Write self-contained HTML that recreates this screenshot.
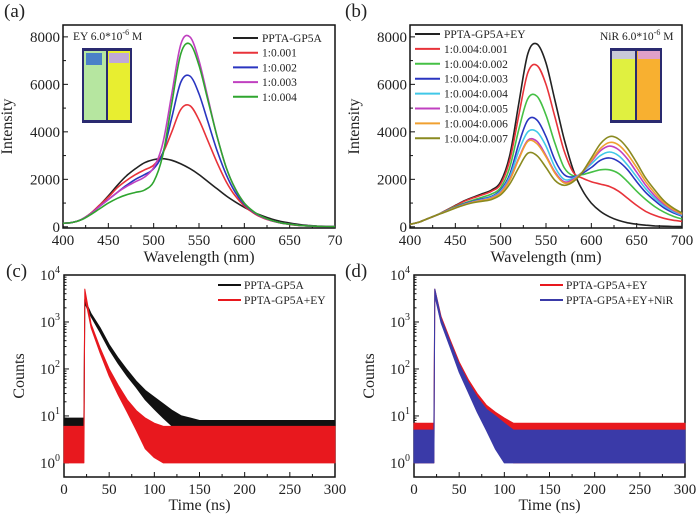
<!DOCTYPE html>
<html><head><meta charset="utf-8"><style>
html,body{margin:0;padding:0;background:#fff;}
svg{display:block;}
svg text{font-family:"Liberation Serif","DejaVu Serif",serif;}
</style></head><body>
<svg id="fig" width="700" height="520" viewBox="0 0 700 520" xmlns="http://www.w3.org/2000/svg" font-family="Liberation Serif, serif"></svg>
<script>
// ---------- data: panel (a) ----------
const wlA = [400,410,420,430,440,450,460,470,480,490,500,510,520,530,540,550,560,570,580,590,600,610,620,630,640,650,660,670,680,690,700];
const aBlack = [150,180,300,550,900,1300,1750,2150,2450,2700,2830,2870,2800,2650,2450,2200,1900,1600,1300,1050,820,620,460,330,230,160,100,60,35,20,10];
const aRed   = [150,180,300,550,900,1250,1650,1950,2200,2400,2600,3100,4000,4950,5100,4500,3600,2700,1900,1300,880,580,380,250,160,100,60,35,20,12,8];
const aBlue  = [150,180,300,530,850,1150,1450,1750,2000,2200,2450,3100,4600,6100,6350,5600,4400,3200,2200,1450,950,620,400,260,170,110,65,40,22,12,8];
const aMag   = [150,180,300,530,850,1150,1450,1700,1900,2100,2500,3500,5600,7700,8000,7000,5400,3800,2500,1600,1000,640,410,260,170,110,65,40,22,12,8];
const aGreen = [150,180,290,500,750,1000,1200,1350,1450,1550,1900,3000,5200,7300,7700,6800,5300,3800,2500,1600,1000,650,420,270,170,110,65,40,22,12,8];
const aLabels = ["PPTA-GP5A","1:0.001","1:0.002","1:0.003","1:0.004"];
// ---------- data: panel (b) ----------
const wlB = [400,410,420,430,440,450,460,470,480,490,500,510,520,530,540,550,560,570,580,590,600,610,620,630,640,650,660,670,680,690,700];
const bBlack = [100,200,350,500,700,900,1100,1250,1400,1550,1900,3000,5200,7300,7700,6900,5300,3700,2400,1550,1000,650,420,270,170,110,70,40,25,15,10];
const bRed   = [100,200,350,500,700,880,1080,1220,1350,1500,1800,2800,4700,6500,6800,6000,4600,3200,2300,2050,1900,1800,1700,1500,1200,900,650,480,360,280,230];
const bGreen = [100,200,350,500,680,850,1000,1130,1250,1380,1650,2500,4100,5400,5500,4700,3500,2500,2150,2200,2300,2400,2400,2250,1900,1500,1150,850,620,450,330];
const bBlue  = [100,200,350,500,670,820,970,1080,1180,1280,1550,2200,3500,4500,4500,3800,2800,2200,2100,2250,2500,2800,2900,2750,2400,1900,1450,1100,800,600,450];
const bCyan  = [100,200,350,500,660,810,950,1060,1150,1250,1500,2100,3200,4000,4000,3400,2500,2000,2050,2300,2650,3000,3150,3000,2600,2100,1600,1200,880,650,480];
const bMag   = [100,200,350,500,650,800,940,1050,1120,1220,1450,2000,2900,3650,3600,3000,2300,1900,2000,2300,2750,3200,3400,3250,2850,2300,1750,1300,950,700,520];
const bOrange= [100,200,350,500,650,800,930,1040,1110,1200,1420,1950,2850,3600,3500,2950,2250,1850,1950,2300,2800,3300,3550,3450,3050,2500,1900,1420,1020,740,540];
const bOlive = [100,200,350,500,640,790,920,1020,1080,1150,1350,1800,2500,3100,3000,2500,1950,1750,1900,2300,2900,3500,3800,3700,3300,2700,2050,1550,1100,800,580];
const bLabels = ["PPTA-GP5A+EY","1:0.004:0.001","1:0.004:0.002","1:0.004:0.003","1:0.004:0.004","1:0.004:0.005","1:0.004:0.006","1:0.004:0.007"];
// ---------- data: panel (c),(d) decay envelopes (time ns, upper & lower counts of noisy trace) ----------
const tDecay = [0,21,22,23,30,40,50,60,70,80,90,100,110,120,130,140,150,175,200,250,300];
const cBlackHi = [9,9,9,3000,1500,750,330,170,95,55,35,25,18,13,10,9,8,8,8,8,8];
const cBlackLo = [3,3,3,2500,1300,600,260,130,70,40,22,14,9,6,4,3,3,3,3,3,3];
const cRedHi   = [6,6,6,5000,900,280,100,45,22,13,9,7,6,6,6,6,6,6,6,6,6];
const cRedLo   = [1,1,1,3500,750,220,70,28,12,5,2,1.3,1,1,1,1,1,1,1,1,1];
const dRedHi   = [7,7,7,5000,1300,420,140,60,30,17,12,9,7,7,7,7,7,7,7,7,7];
const dRedLo   = [1,1,1,3800,1000,320,100,40,17,8,4,2,1,1,1,1,1,1,1,1,1];
const dBlueHi  = [5,5,5,5000,1200,380,125,52,25,14,10,7,5,5,5,5,5,5,5,5,5];
const dBlueLo  = [1,1,1,3600,950,290,85,32,12,5,2,1,1,1,1,1,1,1,1,1,1];

const NS="http://www.w3.org/2000/svg";
const svg=document.getElementById('fig');
function el(tag,attrs,parent){const e=document.createElementNS(NS,tag);for(const k in attrs)e.setAttribute(k,attrs[k]);(parent||svg).appendChild(e);return e;}
function txt(s,x,y,size,anchor,parent){const t=el('text',{x:x,y:y,'font-size':size,'text-anchor':anchor||'start',fill:'#222','font-family':'Liberation Serif, serif'},parent);t.textContent=s;return t;}
function smoothPath(pts){let d='M'+pts[0][0].toFixed(1)+','+pts[0][1].toFixed(1);
 for(let i=0;i<pts.length-1;i++){const p0=pts[i-1]||pts[i],p1=pts[i],p2=pts[i+1],p3=pts[i+2]||p2;
  const c1=[p1[0]+(p2[0]-p0[0])/6,p1[1]+(p2[1]-p0[1])/6],c2=[p2[0]-(p3[0]-p1[0])/6,p2[1]-(p3[1]-p1[1])/6];
  d+='C'+c1[0].toFixed(1)+','+c1[1].toFixed(1)+' '+c2[0].toFixed(1)+','+c2[1].toFixed(1)+' '+p2[0].toFixed(1)+','+p2[1].toFixed(1);}
 return d;}

function frame(name,x0,x1,y0,y1){
 const g=el('g',{});
 el('rect',{x:x0,y:y0,width:x1-x0,height:y1-y0,fill:'none',stroke:'#111','stroke-width':1.5},g);return g;}

// ---------- spectrum panel ----------
function spectrum(opt){
 const {x0,x1,y0,y1,wl,series,colors,labels,panel,leg,ymin}=opt;
 const sx=v=>x0+(v-400)/300*(x1-x0);
 const sy=v=>y1-(v-ymin)/(8500-ymin)*(y1-y0);
 const g=frame('panel-'+panel,x0,x1,y0,y1);
 for(let v=400;v<=700;v+=25){const X=sx(v),L=v%50===0?5:3;el('line',{x1:X,x2:X,y1:y1,y2:y1-L,stroke:'#111'},g);}
 const xt=opt.xticks;
 xt.forEach((s,i)=>{const t=txt(s,sx(400+i*50),y1+17,15,'middle',g);});
 for(let v=0;v<=8000;v+=1000){const Y=sy(v),L=v%2000===0?5:3;el('line',{x1:x0,x2:x0+L,y1:Y,y2:Y,stroke:'#111'},g);
  if(v%2000===0){const t=txt(String(v),x0-3,Y+5,15,'end',g);}}
 const xl=txt('Wavelength (nm)',(x0+x1)/2,y1+34,16,'middle',g);
 const yl=txt('Intensity',0,0,16,'middle',g);yl.setAttribute('transform','translate('+(x0-51)+','+((y0+y1)/2)+') rotate(-90)');
 
 series.forEach((s,i)=>{const p=el('path',{d:smoothPath(wl.map((w,j)=>[sx(w),sy(s[j])])),fill:'none',stroke:colors[i],'stroke-width':1.6},g);
  });
 labels.forEach((l,i)=>{const lg=el('g',{},g);
  const Y=leg.y+i*leg.dy;el('line',{x1:leg.x,x2:leg.x+25,y1:Y,y2:Y,stroke:colors[i],'stroke-width':2},lg);txt(l,leg.x+29,Y+4,11.5,'start',lg);});
 const pl=txt('('+panel+')',opt.px,17,19,'start',g);
 return g;}

const ga=spectrum({panel:'a',x0:63,x1:335,y0:25,y1:228,ymin:-50,wl:wlA,series:[aBlack,aRed,aBlue,aMag,aGreen],
 colors:['#222','#e8333a','#2a35c0','#c040c0','#2fa52f'],labels:aLabels,leg:{x:233,y:38,dy:14.7},
 xticks:['400','450','500','550','600','650','70'],px:4});
const gb=spectrum({panel:'b',x0:410,x1:682,y0:25,y1:228,ymin:-50,wl:wlB,series:[bBlack,bRed,bGreen,bBlue,bCyan,bMag,bOrange,bOlive],
 colors:['#222','#e8333a','#45c045','#2a35c0','#40c8e8','#c040c0','#f0a030','#8a8a20'],labels:bLabels,leg:{x:415,y:34,dy:14.9},
 xticks:['400','450','500','550','600','650','700'],px:345});

function inset(g,x,y,w,h,left,right,label,lx){
 const ig=el('g',{},g);
 el('rect',{x:x,y:y,width:w,height:h,fill:'#2a2a70'},ig);
 const cw=w/2-3;
 el('rect',{x:x+2,y:y+3,width:cw,height:h-6,fill:left},ig);
 el('rect',{x:x+w/2+1,y:y+3,width:cw,height:h-6,fill:right},ig);
 const t=txt('',lx,y-8,11.5,'start',ig);t.innerHTML=label;
 return ig;}
const ia=inset(ga,82,48,50,75,'#b6e6a0','#e8ee30','EY 6.0*10<tspan dy="-5" font-size="8">-6</tspan><tspan dy="5"> M</tspan>',73);
el('rect',{x:86,y:53,width:16,height:12,fill:'#4a80c8'},ia);
el('rect',{x:109,y:53,width:20,height:10,fill:'#c0a8d8'},ia);
const ib=inset(gb,610,48,52,75,'#e0f040','#f8b030','NiR 6.0*10<tspan dy="-5" font-size="8">-6</tspan><tspan dy="5"> M</tspan>',600);
el('rect',{x:612,y:51,width:23,height:8,fill:'#c8c8d8'},ib);
el('rect',{x:638,y:51,width:22,height:8,fill:'#e0a0c8'},ib);

function decay(opt){
 const {x0,x1,y0,y1,panel,bands,colors,labels,leg}=opt;
 const sx=v=>x0+v/300*(x1-x0);
 const lmin=-0.3,lmax=4;
 const sy=v=>y1-(Math.log10(v)-lmin)/(lmax-lmin)*(y1-y0);
 const g=frame('panel-'+panel,x0,x1,y0,y1);
 for(let v=0;v<=300;v+=25){const X=sx(v),L=v%50===0?5:3;el('line',{x1:X,x2:X,y1:y1,y2:y1-L,stroke:'#111'},g);
  if(v%50===0){const t=txt(String(v),X,y1+17,15,'middle',g);}}
 for(let e=0;e<=4;e++){const Y=sy(Math.pow(10,e));el('line',{x1:x0,x2:x0+5,y1:Y,y2:Y,stroke:'#111'},g);
  const t=txt('',x0-4,Y+5,15,'end',g);t.innerHTML='10<tspan dy="-7" font-size="10">'+e+'</tspan>';
  if(e<4)for(let m=2;m<10;m++){const Ym=sy(m*Math.pow(10,e));el('line',{x1:x0,x2:x0+2.5,y1:Ym,y2:Ym,stroke:'#111'},g);}}
 const xl=txt('Time (ns)',(x0+x1)/2,y1+33,16,'middle',g);
 const yl=txt('Counts',0,0,16,'middle',g);yl.setAttribute('transform','translate('+(x0-40)+','+((y0+y1)/2)+') rotate(-90)');
 
 bands.forEach((b,i)=>{const hi=tDecay.map((t,j)=>[sx(t),sy(b[0][j])]);const lo=tDecay.map((t,j)=>[sx(t),sy(b[1][j])]).reverse();
  const d='M'+hi.map(p=>p[0].toFixed(1)+','+p[1].toFixed(1)).join('L')+'L'+lo.map(p=>p[0].toFixed(1)+','+p[1].toFixed(1)).join('L')+'Z';
  const p=el('path',{d:d,fill:colors[i],stroke:colors[i],'stroke-width':1,'stroke-linejoin':'round'},g);
  });
 labels.forEach((l,i)=>{const lg=el('g',{},g);
  const Y=leg.y+i*leg.dy;el('line',{x1:leg.x,x2:leg.x+23,y1:Y,y2:Y,stroke:colors[i],'stroke-width':2},lg);txt(l,leg.x+26,Y+4,11.5,'start',lg);});
 const pl=txt('('+panel+')',opt.px,277,19,'start',g);
}
decay({panel:'c',x0:64,x1:335,y0:275,y1:477,bands:[[cBlackHi,cBlackLo],[cRedHi,cRedLo]],colors:['#111','#e8181e'],
 labels:['PPTA-GP5A','PPTA-GP5A+EY'],leg:{x:218,y:285,dy:15},px:6});
decay({panel:'d',x0:414,x1:685,y0:275,y1:477,bands:[[dRedHi,dRedLo],[dBlueHi,dBlueLo]],colors:['#e8181e','#3a3aa8'],
 labels:['PPTA-GP5A+EY','PPTA-GP5A+EY+NiR'],leg:{x:540,y:285,dy:15},px:345});
</script>
</body></html>
